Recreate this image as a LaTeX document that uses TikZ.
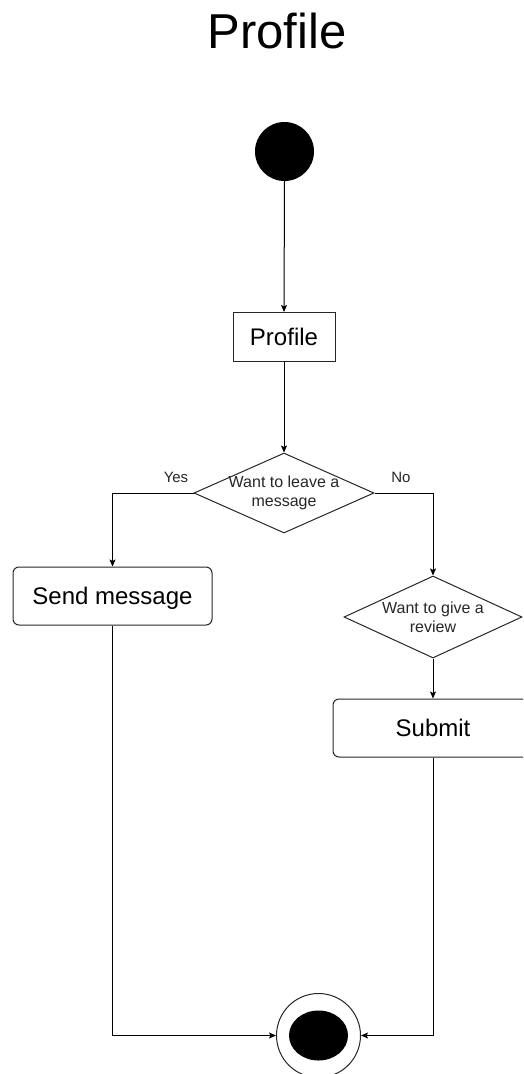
\documentclass[tikz,border=0pt]{standalone}
\usepackage{fontspec}
\setmainfont{Liberation Sans}
\usetikzlibrary{arrows.meta,shapes.geometric}
\begin{document}
\begin{tikzpicture}[x=1pt,y=-1pt,
  flow/.style={draw=black, line width=1pt, -{Stealth[length=7pt,width=6pt,inset=1.5pt]}},
  actbox/.style={draw=black!85, line width=1pt, rounded corners=6pt,
    minimum height=58pt, inner sep=0pt, text depth=0pt, font=\fontsize{24}{28}\selectfont},
  plainbox/.style={draw=black!85, line width=1pt, minimum width=102pt,
    minimum height=49pt, inner sep=0pt, text depth=0pt, font=\fontsize{24}{28}\selectfont},
  choice/.style={draw=black!85, line width=1pt, diamond, aspect=2.2, inner sep=0pt},
  choicetext/.style={align=center, inner sep=0pt, font=\fontsize{16}{19}\selectfont, text=black!85},
  guard/.style={inner sep=0pt, font=\fontsize{15}{18}\selectfont, text=black!85},
  initial/.style={circle, fill=black, inner sep=0pt, minimum size=59pt},
  final/.style={circle, draw=black!85, line width=1pt, inner sep=0pt, minimum size=84pt}
]
\clip (0,0) rectangle (523,1074);

% heading
\node[anchor=base, inner sep=0pt, font=\fontsize{49}{56}\selectfont] (title) at (277,48) {Profile};

% states
\node[initial] (start) at (284.5,151.5) {};
\node[plainbox] (profile) at (284,337) {Profile};
\node[choice, minimum width=180pt, minimum height=80pt] (ask) at (284,493) {};
\node[choicetext] (askt) at (ask.center) {Want to leave a\\message};
\node[actbox, minimum width=199pt] (send) at (112.5,596) {Send message};
\node[choice, minimum width=178pt, minimum height=82pt] (review) at (433,617) {};
\node[choicetext] (reviewt) at (review.center) {Want to give a\\review};
\node[actbox, minimum width=200pt] (submit) at (433,728) {Submit};
\node[final] (finish) at (318.5,1035.5) {};
\fill[black] (finish.center) ellipse [x radius=29.5pt, y radius=25pt];

% guards
\node[guard] (yes) at (176,477) {Yes};
\node[guard] (no) at (401,477) {No};

% transitions
\draw[flow] (start.south) -- (profile.north);
\draw[flow] (profile.south) -- (ask.north);
\draw[flow] (ask.west) -| (send.north);
\draw[flow] (ask.east) -| (review.north);
\draw[flow] (review.south) -- (submit.north);
\draw[flow] (send.south) |- (finish.west);
\draw[flow] (submit.south) |- (finish.east);
\end{tikzpicture}
\end{document}
